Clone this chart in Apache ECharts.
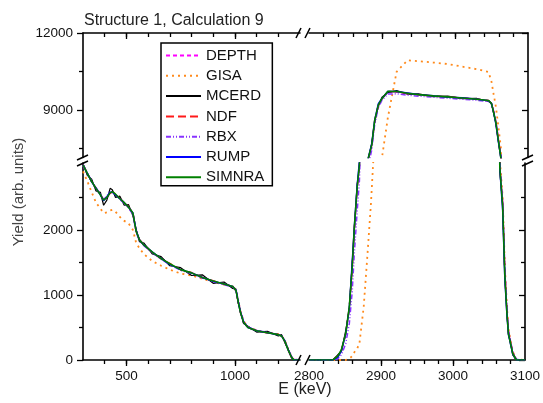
<!DOCTYPE html>
<html><head><meta charset="utf-8">
<script src="https://cdn.jsdelivr.net/npm/echarts@6/dist/echarts.min.js"></script>
<style>html,body{margin:0;padding:0;background:#fff}#c{width:543px;height:403px}</style>
</head><body><div id="c"></div>
<script>
const FONT = 'Liberation Sans, Arial, sans-serif';
const seriesNames = ['DEPTH','GISA','MCERD','NDF','RBX','RUMP','SIMNRA'];

// energies (keV)
const eLeft  = [300,320,340,360,380,395,410,425,435,450,470,490,510,530,545,560,580,620,660,700,750,800,850,900,950,990,1005,1015,1025,1040,1060,1100,1150,1200,1215,1230,1245,1260,1270,1300];
const eRight = [2800,2833,2840,2845,2851,2856,2860,2863,2867,2870,2876,2881,2886,2890,2895,2900,2908,2920,2935,2950,2970,2990,3010,3030,3046,3050,3053,3056,3059,3063,3064,3065,3069,3072,3075,3077,3080,3083,3088,3100];

// yields, low-energy part
const depthLeft  = [2990,2860,2750,2630,2545,2470,2490,2560,2595,2545,2475,2425,2345,2250,1990,1845,1765,1655,1565,1475,1395,1335,1275,1210,1175,1125,1075,910,750,575,505,445,425,385,375,295,165,55,8,0];
const gisaLeft   = [2900,2750,2580,2420,2330,2260,2270,2300,2310,2280,2200,2140,2100,2000,1800,1720,1630,1520,1450,1390,1330,1300,1250,1200,1160,1130,1080,920,760,600,510,455,425,395,375,300,170,60,10,0];
const mcerdLeft  = [3020,2840,2780,2600,2580,2380,2460,2640,2620,2500,2520,2380,2390,2220,2010,1820,1800,1630,1590,1450,1420,1300,1310,1180,1200,1100,1090,880,760,560,520,430,440,370,390,270,170,40,0,0];
const ndfLeft    = [3010,2875,2740,2645,2535,2465,2505,2565,2585,2555,2485,2415,2355,2265,1975,1855,1775,1650,1555,1485,1385,1345,1265,1220,1165,1135,1065,895,735,585,495,455,415,395,365,285,155,45,5,0];
const rbxLeft    = [3005,2880,2750,2650,2550,2470,2520,2600,2580,2545,2470,2410,2340,2240,1960,1840,1760,1650,1550,1470,1380,1330,1260,1205,1160,1120,1080,930,760,600,510,455,425,390,372,300,175,60,10,0];
const rumpLeft   = [3000,2870,2740,2640,2540,2450,2510,2580,2580,2540,2480,2420,2350,2260,1990,1850,1770,1660,1560,1470,1390,1340,1270,1210,1170,1130,1070,900,740,580,500,450,420,390,370,290,160,50,5,0];
const simnraLeft = [3000,2870,2745,2640,2540,2460,2500,2570,2590,2550,2480,2420,2350,2260,1980,1850,1770,1660,1560,1480,1390,1340,1270,1215,1170,1130,1070,900,740,580,500,450,420,390,370,290,160,50,5,0];

// yields, high-energy part
const depthRight  = [0,0,50,150,400,800,1400,2000,2650,2980,5250,7050,7600,8550,9180,9440,9700,9700,9640,9590,9545,9505,9465,9415,9365,9260,8950,8550,7950,7150,5100,3000,2420,1380,760,450,280,120,5,0];
const gisaRight   = [0,0,0,0,0,20,60,120,180,250,820,1590,2400,3200,5500,7150,8700,10490,10940,10900,10850,10790,10690,10590,10480,10100,9600,9130,8450,7500,6500,3100,2500,1450,800,480,300,130,10,0];
const mcerdRight  = [0,0,80,130,450,780,1480,2000,2700,2950,5350,7050,7700,8550,9150,9500,9680,9760,9620,9630,9520,9540,9440,9450,9340,9270,8850,8520,7850,7150,4950,2900,2400,1280,720,380,270,80,0,0];
const ndfRight    = [0,0,55,150,400,810,1420,2040,2660,2990,5280,7080,7630,8580,9190,9440,9720,9710,9645,9595,9548,9508,9468,9418,9368,9255,8920,8520,7920,7120,5050,2990,2400,1350,730,430,260,110,3,0];
const rbxRight    = [0,0,20,80,250,560,1050,1650,2300,2750,4800,6800,7450,8450,9100,9380,9620,9630,9580,9540,9500,9460,9420,9380,9330,9230,8900,8550,7950,7200,5200,3000,2450,1400,760,450,280,120,10,0];
const rumpRight   = [0,0,40,140,400,800,1500,2050,2700,3050,5300,7100,7700,8600,9250,9450,9720,9720,9660,9600,9560,9500,9480,9420,9360,9250,8900,8450,7850,7100,5000,2950,2300,1250,680,400,240,90,0,0];
const simnraRight = [0,0,60,160,410,820,1430,2050,2670,3000,5300,7100,7650,8600,9200,9450,9730,9720,9650,9600,9550,9510,9470,9420,9370,9250,8900,8500,7900,7100,5000,2970,2360,1300,700,410,250,100,0,0];

// axis ticks / labels
const xLeftLabels = [500,1000];
const xLeftMinor = [400,500,600,700,800,900,1000,1100,1200];
const xRightLabels = [2800,2900,3000,3100];
const xRightMajor = [2900,3000];
const xRightMinor = [2820,2840,2860,2880,2900,2920,2940,2960,2980,3000,3020,3040,3060,3080];
const yLowerLabels = [0,1000,2000];
const yLowerMinor = [500,1500,2500];
const yUpperLabels = [9000,12000];
const yUpperMinor = [7500,10500];

const leftData  = {DEPTH:depthLeft, GISA:gisaLeft, MCERD:mcerdLeft, NDF:ndfLeft, RBX:rbxLeft, RUMP:rumpLeft, SIMNRA:simnraLeft};
const rightData = {DEPTH:depthRight, GISA:gisaRight, MCERD:mcerdRight, NDF:ndfRight, RBX:rbxRight, RUMP:rumpRight, SIMNRA:simnraRight};

const styles = {
  DEPTH:  {color:'#ff00ff', type:[4,3], width:1.5},
  GISA:   {color:'#ff8a1c', type:[2,4], width:1.8},
  MCERD:  {color:'#000000', type:'solid', width:1.2},
  NDF:    {color:'#ff1a1a', type:[8,4], width:1.5},
  RBX:    {color:'#8833ff', type:[5,2,1,2,1,2], width:1.5},
  RUMP:   {color:'#0000ff', type:'solid', width:1.5},
  SIMNRA: {color:'#008000', type:'solid', width:1.6}
};

// layout
const XL = {left:83, width:217}, XR = {left:309, width:219};
const YLo = {top:163, height:197}, YUp = {top:33, height:124.5};
const grids = [
  {left:XL.left, width:XL.width, top:YLo.top, height:YLo.height},
  {left:XR.left, width:XR.width, top:YLo.top, height:YLo.height},
  {left:XL.left, width:XL.width, top:YUp.top, height:YUp.height},
  {left:XR.left, width:XR.width, top:YUp.top, height:YUp.height}
];

function ax(gridIndex, position, min, max, ticks, len, labels, line) {
  const inside = position === 'top' || position === 'right';
  return {
    type:'value', gridIndex, position, min, max,
    axisLine:{show:line, onZero:false, lineStyle:{color:'#000', width:1.6}},
    axisTick:{show:true, customValues:ticks, length:len, inside, lineStyle:{color:'#000', width:1.3}},
    axisLabel: labels ? {show:true, customValues:labels, formatter:(v)=>String(v), margin:(position==='left'?10:9), color:'#111', fontSize:13.5, fontFamily:FONT} : {show:false},
    splitLine:{show:false}
  };
}

const xAxes = [
  ax(0,'bottom',300,1300,xLeftMinor,4,xLeftLabels,true),
  ax(0,'bottom',300,1300,xLeftLabels,6,null,false),
  ax(1,'bottom',2800,3100,xRightMinor,4,xRightLabels,true),
  ax(1,'bottom',2800,3100,xRightMajor,6,null,false),
  ax(2,'top',300,1300,xLeftMinor,4,null,true),
  ax(2,'top',300,1300,xLeftLabels,6,null,false),
  ax(3,'top',2800,3100,xRightMinor,4,null,true),
  ax(3,'top',2800,3100,xRightMajor,6,null,false)
];
const yAxes = [
  ax(0,'left',0,3030,yLowerMinor,4,yLowerLabels,true),
  ax(0,'left',0,3030,yLowerLabels,6,null,false),
  ax(1,'right',0,3030,yLowerMinor,4,null,true),
  ax(1,'right',0,3030,yLowerLabels,6,null,false),
  ax(2,'left',7150,12000,yUpperMinor,4,yUpperLabels,true),
  ax(2,'left',7150,12000,yUpperLabels,6,null,false),
  ax(3,'right',7150,12000,yUpperMinor,4,null,true),
  ax(3,'right',7150,12000,yUpperLabels,6,null,false)
];

const series = [];
seriesNames.forEach((name, k) => {
  const base = {type:'line', name, symbol:'none', showSymbol:false, lineStyle:styles[name], itemStyle:{color:styles[name].color}, z: 2 + k, animation:false, clip:true};
  series.push(Object.assign({}, base, {xAxisIndex:0, yAxisIndex:0, data: eLeft.map((e,i)=>[e, leftData[name][i]])}));
  series.push(Object.assign({}, base, {xAxisIndex:2, yAxisIndex:2, data: eRight.map((e,i)=>[e, rightData[name][i]])}));
  series.push(Object.assign({}, base, {xAxisIndex:6, yAxisIndex:6, data: eRight.map((e,i)=>[e, rightData[name][i]])}));
});

function brk(x1,y1,x2,y2){ return {type:'line', shape:{x1,y1,x2,y2}, style:{stroke:'#000', lineWidth:1.5}, z:100}; }

const chart = echarts.init(document.getElementById('c'), null, {renderer:'canvas'});
chart.setOption({
  animation:false,
  backgroundColor:'#fff',
  textStyle:{fontFamily:FONT},
  title:{text:'Structure 1, Calculation 9', left:79, top:8, textStyle:{fontSize:16, fontWeight:'normal', color:'#222', fontFamily:FONT}},
  legend:{
    data: seriesNames, orient:'vertical', left:161, top:43,
    itemWidth:35, itemHeight:14, itemGap:5.3,
    padding:[5,8,1,4], borderColor:'#000', borderWidth:1.5, backgroundColor:'#fff',
    itemStyle:{opacity:0},
    textStyle:{fontSize:15, color:'#111', fontFamily:FONT}, selectedMode:false, z:50
  },
  grid: grids,
  xAxis: xAxes,
  yAxis: yAxes,
  series,
  graphic:[
    brk(296,38,301,28), brk(305,38,310,28),
    brk(296,365,301,355), brk(305,365,310,355),
    brk(77,160,88,155), brk(77,166,88,161),
    brk(522,160,533,155), brk(522,166,533,161),
    {type:'text', x:19, y:192, rotation:Math.PI/2, style:{text:'Yield (arb. units)', textAlign:'center', textVerticalAlign:'middle', font:'15px Liberation Sans, Arial, sans-serif', fill:'#444'}},
    {type:'text', x:305, y:390, style:{text:'E (keV)', textAlign:'center', textVerticalAlign:'middle', font:'16px Liberation Sans, Arial, sans-serif', fill:'#222'}}
  ]
});
</script></body></html>
